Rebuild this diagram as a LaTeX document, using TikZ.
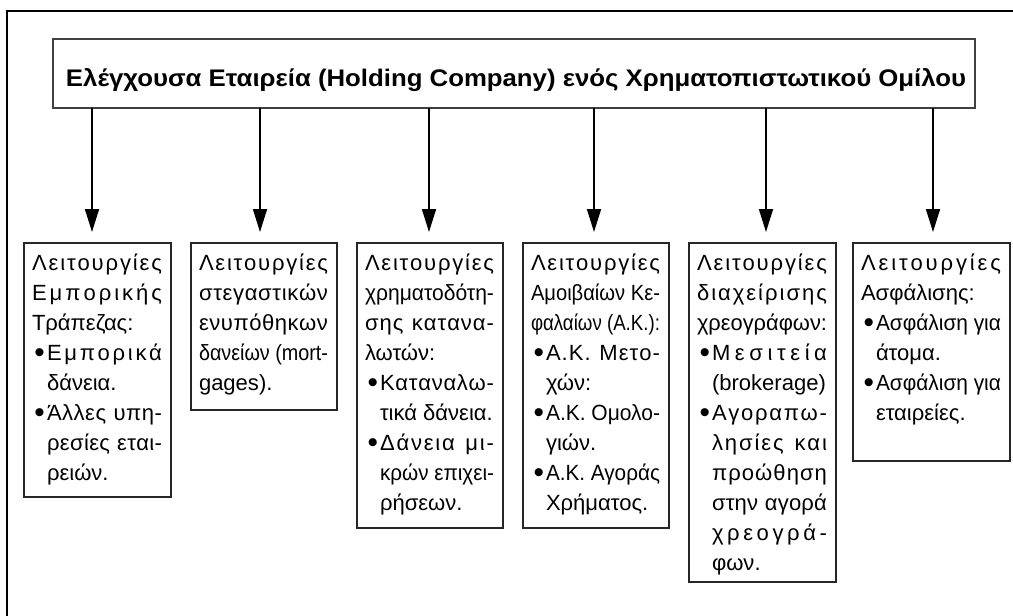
\documentclass[tikz,border=0pt]{standalone}
\usepackage{fontspec}
\usepackage{graphicx}
\setmainfont{Liberation Sans}
\usetikzlibrary{arrows.meta,calc}
\makeatletter
\newlength\iw \newlength\rw \newlength\bi \newlength\bo \newlength\reflen
\newsavebox\refbx \newsavebox\tmpbx
\AtBeginDocument{\sbox\refbx{\fontsize{22pt}{30pt}\selectfont Λειτουργίες}\global\reflen=\wd\refbx}
\def\JLend{\JLend}
\def\JLw#1#2{\hbox to #1{\JLa#2\JLend}}
\def\JLa{\futurelet\JLnext\JLb}
\def\JLb{\ifx\JLnext\JLend\let\JLc\JLstop\else\ifx\JLnext\@sptoken\let\JLc\JLspace\else\let\JLc\JLchar\fi\fi\JLc}
\def\JLstop\JLend{\unskip}
\def\JLchar#1{#1\hskip0pt plus1fil\relax\JLa}
\def\JLspace{\unskip\hskip\fontdimen2\font plus2.5fil minus\fontdimen4\font\relax\afterassignment\JLa\let\JLtmp= }
\makeatother
% fit helpers: justified (spread or squeeze) and natural (squeeze if too wide)
\newcommand\fitJ[2]{\sbox\tmpbx{#2}\ifdim\wd\tmpbx>#1\relax\hbox to #1{\resizebox{#1}{\height}{\usebox\tmpbx}}\else\JLw{#1}{#2}\fi}
\newcommand\fitN[2]{\sbox\tmpbx{#2}\ifdim\wd\tmpbx>#1\relax\hbox to #1{\resizebox{#1}{\height}{\usebox\tmpbx}}\else\hbox to #1{\usebox\tmpbx\hfil}\fi}
\newcommand\BUL{\hbox to\bi{\hskip\bo\raisebox{-2.9pt}{\scalebox{1.35}{\textbullet}}\hfil}}
\newcommand\LJ[1]{\fitJ{\iw}{#1}}
\newcommand\LN[1]{\fitN{\iw}{#1}}
\newcommand\LBJ[1]{\hbox to\iw{\BUL\fitJ{\rw}{#1}}}
\newcommand\LBN[1]{\hbox to\iw{\BUL\fitN{\rw}{#1}}}
\newcommand\LIJ[1]{\hbox to\iw{\hskip\bi\fitJ{\rw}{#1}}}
\newcommand\LIN[1]{\hbox to\iw{\hskip\bi\fitN{\rw}{#1}}}
\tikzset{
  cbox/.style={draw=black!85, line width=1.3pt, inner sep=0pt, outer sep=0pt},
  tbox/.style={draw=black!75, line width=1.5pt, inner sep=0pt, outer sep=0pt},
  txt/.style={inner sep=0pt, outer sep=0pt, anchor=base west, font=\fontsize{22pt}{30pt}\selectfont},
  arr/.style={line width=1.6pt, -{Triangle[length=23pt,width=14pt]}, shorten >=11pt},
}
\newcommand\fbx[6]{%
  \node[cbox, minimum width=#4pt, minimum height=#5pt, anchor=north west] (#1) at (#2,#3) {};
  \pgfmathsetlength\iw{(#4-17)/\sx}%
  \setlength\rw{\dimexpr\iw-\bi\relax}%
  \node[txt] (#1t) at ($(#1.north west)+(8,27)$) {\scalebox{\sx}[1]{\vtop{\baselineskip=30pt #6}}};
}
\begin{document}
\begin{tikzpicture}[x=1pt,y=-1pt]
\useasboundingbox (0,0) rectangle (1013,616);
\pgfmathsetmacro\sx{111/\reflen}%
\pgfmathsetlength\bi{15/\sx}%
\pgfmathsetlength\bo{2.5/\sx}%
% outer frame
\draw[line width=2.4pt] (1016,11) -- (7,11) -- (7,619);
% title
\node[tbox, minimum width=922pt, minimum height=69pt, anchor=north west] (title) at (53,39) {};
\node[inner sep=0pt, anchor=base] (titletext) at (516,86)
  {\resizebox{900pt}{\height}{\fontsize{24pt}{28pt}\selectfont\bfseries Ελέγχουσα Εταιρεία (Holding Company) ενός Χρηματοπιστωτικού Ομίλου}};
% boxes
\fbx{b1}{24}{243}{147}{254}{%
  \LJ{Λειτουργίες}
  \LJ{Εμπορικής}
  \LN{Τράπεζας:}
  \LBJ{Εμπορικά}
  \LIN{δάνεια.}
  \LBJ{Άλλες υπη-}
  \LIJ{ρεσίες εται-}
  \LIN{ρειών.}}
\fbx{b2}{191}{243}{146}{167}{%
  \LJ{Λειτουργίες}
  \LJ{στεγαστικών}
  \LJ{ενυπόθηκων}
  \LJ{δανείων (mort-}
  \LN{gages).}}
\fbx{b3}{357}{243}{146}{285}{%
  \LJ{Λειτουργίες}
  \LJ{χρηματοδότη-}
  \LJ{σης κατανα-}
  \LN{λωτών:}
  \LBJ{Καταναλω-}
  \LIN{τικά δάνεια.}
  \LBJ{Δάνεια μι-}
  \LIJ{κρών επιχει-}
  \LIN{ρήσεων.}}
\fbx{b4}{523}{243}{146}{285}{%
  \LJ{Λειτουργίες}
  \LJ{Αμοιβαίων Κε-}
  \LN{φαλαίων (Α.Κ.):}
  \LBJ{Α.Κ. Μετο-}
  \LIN{χών:}
  \LBJ{Α.Κ. Ομολο-}
  \LIN{γιών.}
  \LBJ{Α.Κ. Αγοράς}
  \LIN{Χρήματος.}}
\fbx{b5}{689}{243}{147}{339}{%
  \LJ{Λειτουργίες}
  \LJ{διαχείρισης}
  \LN{χρεογράφων:}
  \LBJ{Μεσιτεία}
  \LIN{(brokerage)}
  \LBJ{Αγοραπω-}
  \LIJ{λησίες και}
  \LIJ{προώθηση}
  \LIJ{στην αγορά}
  \LIJ{χρεογρά-}
  \LIN{φων.}}
\fbx{b6}{853}{243}{157}{218}{%
  \LJ{Λειτουργίες}
  \LN{Ασφάλισης:}
  \LBJ{Ασφάλιση για}
  \LIN{άτομα.}
  \LBJ{Ασφάλιση για}
  \LIN{εταιρείες.}}
% arrows
\foreach \b/\dx in {b1/-5.5, b2/-4, b3/-1, b4/-2, b5/3.5, b6/1.5}
  \draw[arr] ($(title.south -| \b.north)+(\dx,0)$) -- ($(\b.north)+(\dx,0)$);
\end{tikzpicture}
\end{document}
